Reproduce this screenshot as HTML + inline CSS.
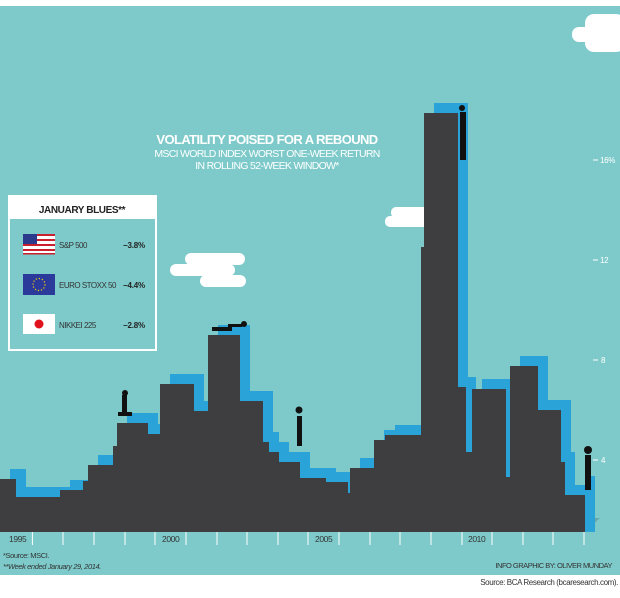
<!DOCTYPE html>
<html><head><meta charset="utf-8"><style>
html,body{margin:0;padding:0;background:#fff}
svg{display:block}
text{font-family:"Liberation Sans",sans-serif}
</style></head><body>
<svg width="620" height="598" viewBox="0 0 620 598">
<rect x="0" y="0" width="620" height="598" fill="#fff"/>
<rect x="0" y="6" width="620" height="569" fill="#7ecaca"/>
<g fill="#fff">
<rect x="585" y="14" width="40" height="38" rx="9"/><rect x="572" y="27" width="30" height="15" rx="7"/>
<rect x="185" y="253" width="60" height="12" rx="6"/><rect x="170" y="264" width="65" height="12" rx="6"/><rect x="200" y="275" width="46" height="12" rx="6"/>
<rect x="391" y="207" width="40" height="11" rx="5"/><rect x="385" y="216" width="45" height="11" rx="5"/>
</g>
<text x="267" y="144" text-anchor="middle" fill="#fff" font-size="13" font-weight="bold" letter-spacing="-0.6">VOLATILITY POISED FOR A REBOUND</text>
<text x="267" y="157" text-anchor="middle" fill="#fff" font-size="10.5" letter-spacing="-0.7">MSCI WORLD INDEX WORST ONE-WEEK RETURN</text>
<text x="267" y="169" text-anchor="middle" fill="#fff" font-size="10.5" letter-spacing="-0.7">IN ROLLING 52-WEEK WINDOW*</text>
<polygon points="585,532 600,518 585,518" fill="#6aa9a9"/>
<g transform="translate(10,-10)">
<path fill="#2aa3d8" d="M0,532 V479 H16 V497 H60 V490 H83 V481 H88 V465 H113 V446 H117 V423 H148 V434 H160 V384 H194 V411 H208 V335 H240 V401 H263 V442 H269 V452 H279 V462 H300 V478 H326 V482 H348 V493 H350 V468 H374 V440 H385 V435 H421 V247 H424 V113 H458 V387 H466 V452 H472 V389 H506 V477 H510 V366 H538 V410 H561 V462 H565 V495 H576 V486 H585 V542 Z"/>
</g>
<path fill="#3e3e40" d="M0,532 V479 H16 V497 H60 V490 H83 V481 H88 V465 H113 V446 H117 V423 H148 V434 H160 V384 H194 V411 H208 V335 H240 V401 H263 V442 H269 V452 H279 V462 H300 V478 H326 V482 H348 V493 H350 V468 H374 V440 H385 V435 H421 V247 H424 V113 H458 V387 H466 V452 H472 V389 H506 V477 H510 V366 H538 V410 H561 V462 H565 V495 H585 V532 Z"/>
<g fill="#111">
<rect x="122" y="395" width="5" height="20"/><circle cx="125" cy="393" r="3"/><rect x="118" y="412" width="14" height="4"/>
<rect x="297" y="416" width="5" height="30"/><circle cx="299" cy="410" r="3.5"/>
<rect x="585" y="455" width="6" height="35"/><circle cx="588" cy="450" r="4"/>
<rect x="460" y="112" width="6" height="48"/><circle cx="462" cy="108" r="3"/>
<rect x="212" y="327" width="20" height="4"/><circle cx="244" cy="324" r="3"/><rect x="228" y="324" width="14" height="3"/>
</g>
<g stroke="#fff" stroke-width="1">
<line x1="32.4" y1="532" x2="32.4" y2="545"/><line x1="63" y1="532" x2="63" y2="545"/><line x1="94" y1="532" x2="94" y2="545"/><line x1="125" y1="532" x2="125" y2="545"/><line x1="155" y1="532" x2="155" y2="545"/><line x1="186" y1="532" x2="186" y2="545"/><line x1="217" y1="532" x2="217" y2="545"/><line x1="247" y1="532" x2="247" y2="545"/><line x1="278" y1="532" x2="278" y2="545"/><line x1="308" y1="532" x2="308" y2="545"/><line x1="339" y1="532" x2="339" y2="545"/><line x1="370" y1="532" x2="370" y2="545"/><line x1="400" y1="532" x2="400" y2="545"/><line x1="431" y1="532" x2="431" y2="545"/><line x1="462" y1="532" x2="462" y2="545"/><line x1="492" y1="532" x2="492" y2="545"/><line x1="523" y1="532" x2="523" y2="545"/><line x1="553" y1="532" x2="553" y2="545"/><line x1="584" y1="532" x2="584" y2="545"/>
<line x1="593" y1="160" x2="598" y2="160"/><line x1="593" y1="260" x2="598" y2="260"/><line x1="593" y1="360" x2="598" y2="360"/><line x1="593" y1="460" x2="598" y2="460"/>
</g>
<g fill="#333" font-size="8.5" letter-spacing="-0.4">
<text x="9" y="542">1995</text><text x="162" y="542">2000</text><text x="315" y="542">2005</text><text x="468" y="542">2010</text>
</g>
<g fill="#fff" font-size="8" letter-spacing="-0.3">
<text x="600" y="163">16%</text><text x="600" y="263">12</text><text x="601" y="363">8</text><text x="601" y="463">4</text>
</g>
<rect x="9" y="196" width="147" height="154" fill="none" stroke="#fff" stroke-width="2"/>
<rect x="9" y="196" width="147" height="23" fill="#fff"/>
<text x="82" y="213" text-anchor="middle" font-size="10" font-weight="bold" fill="#222" letter-spacing="-0.4">JANUARY BLUES**</text>
<g>
<rect x="23" y="234" width="32" height="20" fill="#fff"/>
<g fill="#c8202c"><rect x="23" y="234" width="32" height="2"/><rect x="23" y="239" width="32" height="2"/><rect x="23" y="244" width="32" height="2"/><rect x="23" y="249" width="32" height="2"/><rect x="23" y="253" width="32" height="1.5"/></g>
<rect x="23" y="234" width="14" height="10" fill="#2b3a8a"/>
<rect x="23" y="274" width="32" height="21" fill="#2b3a9a"/>
<circle cx="39" cy="284.5" r="6" fill="none" stroke="#f5d300" stroke-width="1.2" stroke-dasharray="1.2 1.9"/>
<rect x="23" y="314" width="32" height="20" fill="#fff"/>
<circle cx="39" cy="324" r="4.5" fill="#e0101c"/>
</g>
<g font-size="8" fill="#333" letter-spacing="-0.5">
<text x="59" y="248">S&amp;P 500</text><text x="59" y="288">EURO STOXX 50</text><text x="59" y="328">NIKKEI 225</text>
</g>
<g font-size="8" fill="#222" font-weight="bold" letter-spacing="-0.2">
<text x="123" y="248">−3.8%</text><text x="123" y="288">−4.4%</text><text x="123" y="328">−2.8%</text>
</g>
<text x="3" y="558" font-size="7.5" fill="#333" letter-spacing="-0.4">*Source: MSCI.</text>
<text x="3" y="569" font-size="7.5" fill="#333" font-style="italic" letter-spacing="-0.4">**Week ended January 29, 2014.</text>
<text x="612" y="568" text-anchor="end" font-size="7.5" fill="#333" letter-spacing="-0.5">INFO GRAPHIC BY: OLIVER MUNDAY</text>
<text x="618" y="585" text-anchor="end" font-size="8" fill="#333" letter-spacing="-0.4">Source: BCA Research (bcaresearch.com).</text>
</svg>
</body></html>
